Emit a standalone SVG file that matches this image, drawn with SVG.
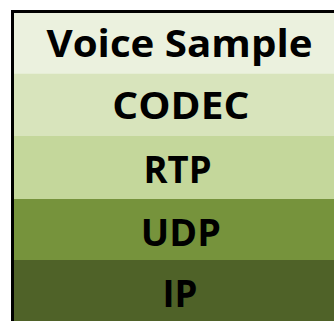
<svg xmlns="http://www.w3.org/2000/svg" width="334" height="321" viewBox="0 0 334 321">
<style>
.t{font-family:"Open Sans","Liberation Sans",sans-serif;font-weight:bold;font-size:37px;fill:#000;text-anchor:middle}
</style>
<rect x="0" y="0" width="334" height="321" fill="#fff"/>
<g id="voice-sample">
<rect x="14" y="13" width="330" height="60.5" fill="#EBF1DE"/>
<text class="t" x="179.5" y="57.3" textLength="266" lengthAdjust="spacingAndGlyphs">Voice Sample</text>
</g>
<g id="codec">
<rect x="14" y="73.5" width="330" height="62.5" fill="#D8E4BC"/>
<text class="t" x="180.8" y="119.3" textLength="137" lengthAdjust="spacingAndGlyphs">CODEC</text>
</g>
<g id="rtp">
<rect x="14" y="136" width="330" height="63" fill="#C4D79B"/>
<text class="t" x="177.5" y="183.3" textLength="68" lengthAdjust="spacingAndGlyphs">RTP</text>
</g>
<g id="udp">
<rect x="14" y="199" width="330" height="61" fill="#76933C"/>
<text class="t" x="180.8" y="245.7" textLength="80" lengthAdjust="spacingAndGlyphs">UDP</text>
</g>
<g id="ip">
<rect x="14" y="260" width="330" height="70" fill="#4F6228"/>
<text class="t" x="180" y="306.7" textLength="35" lengthAdjust="spacingAndGlyphs">IP</text>
</g>
<g id="connectors"/>
<path d="M12.5 330 V11.5 H340" fill="none" stroke="#000" stroke-width="3"/>
</svg>
